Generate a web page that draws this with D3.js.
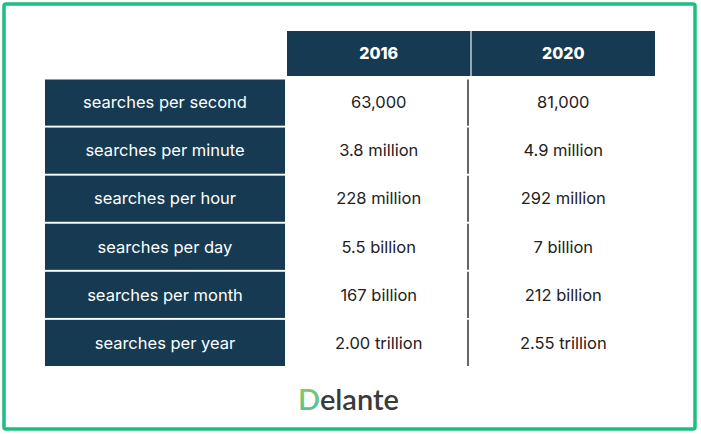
<!DOCTYPE html>
<html><head><meta charset="utf-8">
<script src="https://cdn.jsdelivr.net/npm/d3@7"></script>
<style>body{margin:0;background:#fff}svg{display:block;font-family:Inter,"Noto Sans",sans-serif}</style>
</head><body><svg id="c" width="701" height="434"></svg>
<script>
// table data
const years = ["2016", "2020"];
const metrics = ["searches per second", "searches per minute", "searches per hour",
  "searches per day", "searches per month", "searches per year"];
const values2016 = ["63,000", "3.8 million", "228 million", "5.5 billion", "167 billion", "2.00 trillion"];
const values2020 = ["81,000", "4.9 million", "292 million", "7 billion", "212 billion", "2.55 trillion"];

const svg = d3.select("#c");
const navy = "#153a51";

svg.append("rect").attr("x", 4).attr("y", 4).attr("width", 691).attr("height", 425)
  .attr("rx", 2).attr("fill", "none").attr("stroke", "#1bbf80").attr("stroke-width", 3.5);

const col = d3.scaleBand().domain(years).range([287, 655]).paddingInner(0.006);
const row = d3.scaleBand().domain(metrics).range([79.5, 366]).paddingInner(0.04);

// header
const head = svg.append("g");
head.selectAll("rect").data(years).join("rect")
  .attr("x", d => col(d)).attr("y", 31).attr("width", col.bandwidth()).attr("height", 45)
  .attr("fill", navy);
head.selectAll("text").data(years).join("text")
  .attr("x", d => col(d) + col.bandwidth() / 2).attr("y", 53.5).attr("dy", "0.35em")
  .attr("text-anchor", "middle").attr("fill", "#fff").attr("font-weight", 800)
  .attr("font-size", 16).text(d => d);

// row labels
const lab = svg.append("g");
lab.selectAll("rect").data(metrics).join("rect")
  .attr("x", 45).attr("y", d => row(d)).attr("width", 240).attr("height", row.bandwidth())
  .attr("fill", navy);
lab.selectAll("text").data(metrics).join("text")
  .attr("x", 165).attr("y", d => row(d) + row.bandwidth() / 2).attr("dy", "0.35em")
  .attr("text-anchor", "middle").attr("fill", "#fff").attr("font-size", 16.5).text(d => d);

// divider between value columns
svg.append("g").selectAll("line").data(metrics).join("line")
  .attr("x1", 468).attr("x2", 468)
  .attr("y1", d => row(d)).attr("y2", d => row(d) + row.bandwidth())
  .attr("stroke", "#333").attr("stroke-width", 1.5);

// values
[values2016, values2020].forEach((vals, i) => {
  svg.append("g").selectAll("text").data(vals).join("text")
    .attr("x", col(years[i]) + col.bandwidth() / 2)
    .attr("y", (d, j) => row(metrics[j]) + row.bandwidth() / 2).attr("dy", "0.35em")
    .attr("text-anchor", "middle").attr("fill", "#222").attr("font-size", 16.5).text(d => d);
});

// logo
const defs = svg.append("defs");
const g = defs.append("linearGradient").attr("id", "lg").attr("x1", 0).attr("x2", 1).attr("y1", 0).attr("y2", 1);
g.append("stop").attr("offset", "0%").attr("stop-color", "#8fd14f");
g.append("stop").attr("offset", "100%").attr("stop-color", "#1aa7e0");
const logo = svg.append("text").attr("x", 298).attr("y", 410).attr("font-size", 29)
  .attr("font-weight", 600).attr("font-family", "Lato, sans-serif");
logo.append("tspan").attr("fill", "url(#lg)").text("D");
logo.append("tspan").attr("fill", "#3a3a3a").text("elante");
</script></body></html>
